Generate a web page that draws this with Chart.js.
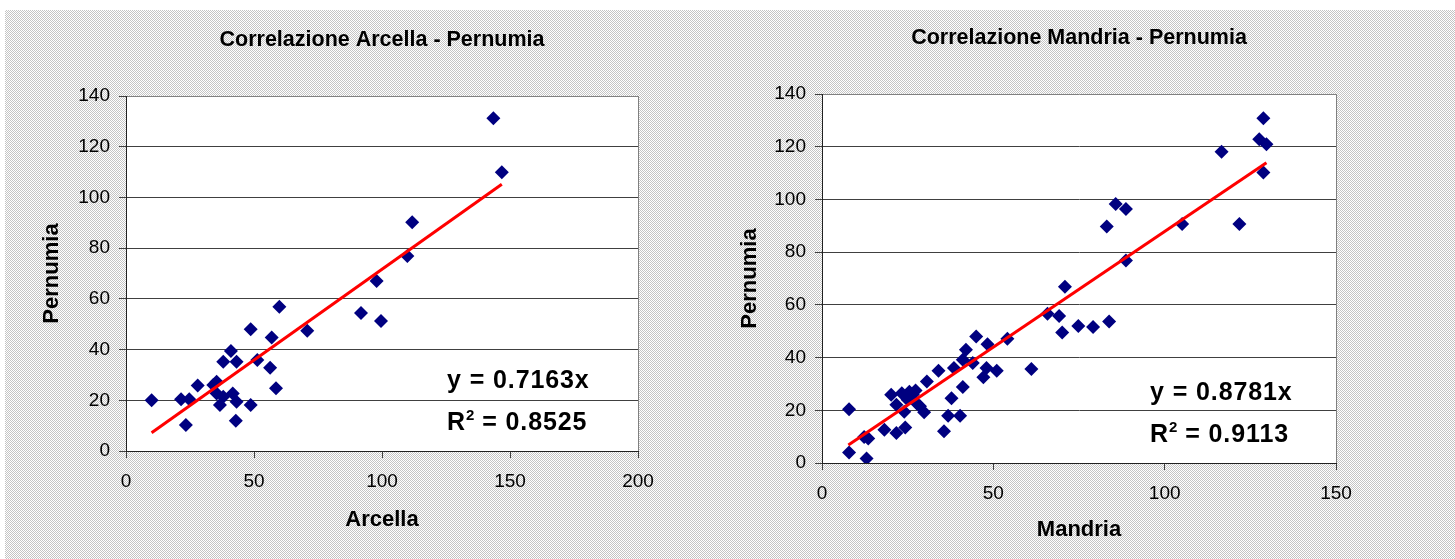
<!DOCTYPE html>
<html><head><meta charset="utf-8">
<script src="https://cdn.jsdelivr.net/npm/chart.js@4.4.0/dist/chart.umd.min.js"></script>
<style>
html,body{margin:0;padding:0;background:#fff;width:1455px;height:559px;overflow:hidden;font-family:"Liberation Sans",Arial,sans-serif;}
#bg{position:absolute;left:5px;top:10px;width:1450px;height:549px;background-image:repeating-conic-gradient(#c4c4c4 0 25%,#ffffff 0 50%);background-size:2px 2px;}
.wrap{position:absolute;top:0;height:559px;}
.eq{position:absolute;font:bold 25px "Liberation Sans",Arial,sans-serif;letter-spacing:0.9px;line-height:42px;color:#000;white-space:nowrap;}
.eq sup{font-size:15px;line-height:0;vertical-align:10px;letter-spacing:0;}
</style></head>
<body>
<div id="bg"></div>
<div class="wrap" style="left:0;width:700px;"><canvas id="c1" width="700" height="559"></canvas></div>
<div class="wrap" style="left:700px;width:755px;"><canvas id="c2" width="755" height="559"></canvas></div>
<div class="eq" style="left:447px;top:358px;">y = 0.7163x<br>R<sup>2</sup> = 0.8525</div>
<div class="eq" style="left:1150px;top:370px;">y = 0.8781x<br>R<sup>2</sup> = 0.9113</div>
<script>
// ---- Data ----
const arcellaX = [10,21.5,24.7,23.4,28,35.4,34.1,35.4,38,36.7,41.7,43.2,42.9,38,41,43.2,48.7,48.7,51.3,56.9,56.3,59.9,58.6,70.8,91.8,99.6,97.9,109.9,111.8,143.5,146.8];
const arcellaPernumia = [20,20.4,20.4,10.3,25.8,27.3,26,22.7,21.4,18.1,22.7,19.4,11.9,35.2,39.4,35.2,48,18.1,35.9,44.8,32.8,56.9,24.7,47.4,54.4,51.3,67,76.9,90.2,131.2,109.9];
const arcellaTrendX = [10,146.8];
const arcellaTrendY = [7.2,105.2];

const mandriaX = [7.9,7.9,12.3,13.5,13,18.2,20.2,21.7,24.3,21.7,23.3,24,25,25.5,26.5,27.3,27.6,28.6,29.8,30.6,34,35.6,36.8,37.8,38.5,40.3,41.1,41.1,42,44,45,47.1,48,48.3,51,54.1,61.1,65.8,69.2,70.1,70.9,74.8,79.1,83.8,83.1,85.7,88.7,88.7,105.1,116.6,121.8,128.8,127.6,129.7,128.8];
const mandriaPernumia = [20.4,4,9.9,9.3,1.7,12.6,25.9,11.4,13.5,22.1,26.5,19.4,24,27,26,27.5,22.7,21.5,19.3,30.9,35,12,17.9,24.6,36,17.9,28.8,39.2,43,37.9,48,32.5,36,45.1,35,47.1,35.7,56.6,55.8,49.5,66.9,52,51.6,53.7,89.7,98.3,96.4,76.8,90.7,118.1,90.7,130.8,122.8,120.9,110.2];
const mandriaTrendX = [7.7,129.7];
const mandriaTrendY = [6.8,113.9];

const titles = ["Correlazione Arcella - Pernumia","Correlazione Mandria - Pernumia"];
const xTitles = ["Arcella","Mandria"];
const yTitle = "Pernumia";
const yTicks = [0,20,40,60,80,100,120,140];
const xMaxes = [200,150];
const xStep = 50;

function pts(xs, ys){ return xs.map((x,i)=>({x:x,y:ys[i]})); }

const plotBg = {
  id:'plotBg',
  beforeDraw(chart){
    const {ctx, chartArea:a} = chart;
    ctx.save();
    ctx.fillStyle = '#ffffff';
    ctx.fillRect(a.left, a.top, a.right-a.left, a.bottom-a.top);
    ctx.restore();
  },
  beforeDatasetsDraw(chart){
    const {ctx, chartArea:a} = chart;
    ctx.save();
    ctx.strokeStyle = '#808080';
    ctx.lineWidth = 1;
    ctx.beginPath();
    ctx.moveTo(Math.round(a.right)+0.5, a.top);
    ctx.lineTo(Math.round(a.right)+0.5, a.bottom);
    ctx.stroke();
    ctx.restore();
  }
};

function makeChart(id, cfg){
  const ctx = document.getElementById(id);
  return new Chart(ctx, {
    type:'scatter',
    data:{datasets:[
      {type:'line', data:cfg.trend, borderColor:'#ff0000', borderWidth:3, pointRadius:0, fill:false, order:0, tension:0},
      {type:'scatter', data:cfg.points, pointStyle:'rectRot', pointRadius:7, pointHoverRadius:7,
       backgroundColor:'#000080', borderColor:'#000080', borderWidth:0, order:1}
    ]},
    plugins:[plotBg],
    options:{
      responsive:false, animation:false, devicePixelRatio:1,
      layout:{padding:{top:0,left:0,bottom:0,right:cfg.padRight}},
      plugins:{
        legend:{display:false}, tooltip:{enabled:false},
        title:{display:true, text:cfg.title, fullSize:false, color:'#000',
          font:{family:'"Liberation Sans", Arial, sans-serif', size:21.5, weight:'bold', lineHeight:1.2},
          padding:{top:cfg.titleTop, bottom:cfg.titleBottom}}
      },
      scales:{
        x:{type:'linear', min:0, max:cfg.xMax,
          afterFit(s){ s.height = cfg.xAxisH; },
          ticks:{stepSize:xStep, color:'#000', padding:12, font:{family:'"Liberation Sans", Arial, sans-serif', size:19}},
          grid:{drawOnChartArea:false, drawTicks:true, tickLength:7, tickColor:'#404040'},
          border:{display:true, color:'#202020', width:1},
          title:{display:true, text:cfg.xTitle, color:'#000', padding:{top:0,bottom:cfg.xTitlePad},
            font:{family:'"Liberation Sans", Arial, sans-serif', size:22, weight:'bold', lineHeight:1.2}}
        },
        y:{type:'linear', min:0, max:140,
          afterFit(s){ s.width = cfg.yAxisW; },
          afterBuildTicks(s){ s.ticks = yTicks.map(v=>({value:v})); },
          ticks:{color:'#000', padding:9, font:{family:'"Liberation Sans", Arial, sans-serif', size:19}},
          grid:{drawTicks:true, tickLength:7, tickColor:'#404040', lineWidth:1,
            color:(c)=> (c.tick && c.tick.value===140) ? '#808080' : '#404040'},
          border:{display:true, color:'#202020', width:1},
          title:{display:true, text:yTitle, color:'#000', padding:{top:cfg.yTitlePad,bottom:0},
            font:{family:'"Liberation Sans", Arial, sans-serif', size:22, weight:'bold', lineHeight:1.2}}
        }
      }
    }
  });
}

makeChart('c1', {
  title:titles[0], xTitle:xTitles[0], xMax:xMaxes[0],
  points:pts(arcellaX, arcellaPernumia), trend:pts(arcellaTrendX, arcellaTrendY),
  padRight:62, titleTop:27.1, titleBottom:43.1, xAxisH:108, yAxisW:126,
  xTitlePad:25.8, yTitlePad:38.8
});
makeChart('c2', {
  title:titles[1], xTitle:xTitles[1], xMax:xMaxes[1],
  points:pts(mandriaX, mandriaPernumia), trend:pts(mandriaTrendX, mandriaTrendY),
  padRight:119, titleTop:25.1, titleBottom:43.1, xAxisH:96, yAxisW:122,
  xTitlePad:15.8, yTitlePad:36.8
});
</script>
</body></html>
